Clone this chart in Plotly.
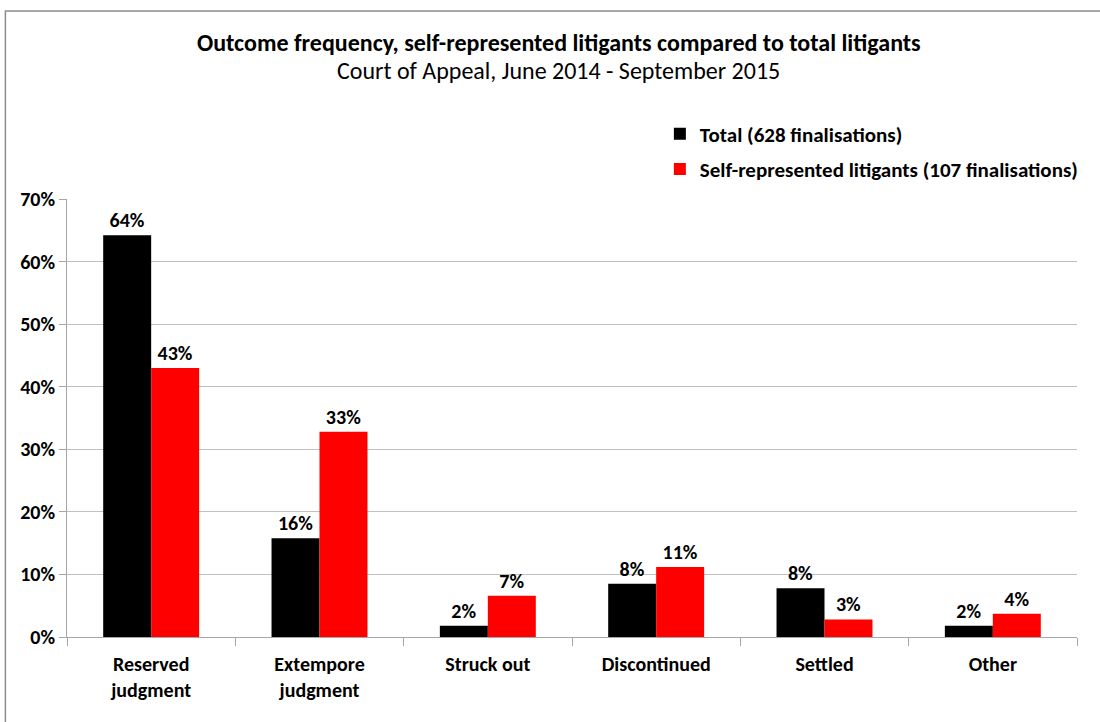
import plotly.graph_objects as go

categories = ["Reserved<br>judgment", "Extempore<br>judgment", "Struck out", "Discontinued", "Settled", "Other"]
total_vals = [64.2, 15.8, 1.8, 8.5, 7.8, 1.8]
srl_vals = [43.0, 32.8, 6.6, 11.2, 2.8, 3.7]
total_labels = ["64%", "16%", "2%", "8%", "8%", "2%"]
srl_labels = ["43%", "33%", "7%", "11%", "3%", "4%"]
y_ticks = [0, 10, 20, 30, 40, 50, 60, 70]
y_tick_text = ["0%", "10%", "20%", "30%", "40%", "50%", "60%", "70%"]

FONT = "Carlito, Lato, sans-serif"
BOLD20 = dict(family=FONT, size=20, color="#000000", weight="bold")

fig = go.Figure()
fig.add_trace(go.Bar(
    x=categories, y=total_vals, name="Total (628 finalisations)",
    legendgroup="total",
    marker=dict(color="#000000", line=dict(width=0)),
    text=total_labels, textposition="outside", cliponaxis=False,
    textfont=BOLD20,
))
fig.add_trace(go.Bar(
    x=categories, y=srl_vals, name="Self-represented litigants (107 finalisations)",
    legendgroup="srl",
    marker=dict(color="#FF0000", line=dict(width=0)),
    text=srl_labels, textposition="outside", cliponaxis=False,
    textfont=BOLD20,
))

fig.update_layout(
    width=1100, height=722,
    paper_bgcolor="white", plot_bgcolor="white",
    margin=dict(l=67, r=23, t=199, b=85, autoexpand=False),
    barmode="group", bargap=0.43, bargroupgap=0,
    font=dict(family=FONT, size=20, color="#000000"),
    showlegend=True,
    legend=dict(x=0.587, y=1.195, xanchor="left", yanchor="top",
                font=dict(family=FONT, size=21, color="#000000", weight="bold"),
                bgcolor="rgba(0,0,0,0)", itemwidth=30, tracegroupgap=5),
    uniformtext=dict(minsize=20, mode="show"),
)
fig.update_xaxes(
    showline=True, linecolor="#A6A6A6", linewidth=1,
    ticks="outside", tickson="boundaries", ticklen=8, tickcolor="#A6A6A6",
    tickfont=BOLD20, ticklabelstandoff=9,
    showgrid=False,
)
fig.update_yaxes(
    range=[0, 70], tickvals=y_ticks, ticktext=y_tick_text,
    showline=True, linecolor="#A6A6A6", linewidth=1,
    ticks="outside", ticklen=7, tickcolor="#A6A6A6",
    showgrid=True, gridcolor="#C0C0C0", gridwidth=1,
    tickfont=BOLD20, zeroline=False,
)
fig.add_annotation(
    text="<b>Outcome frequency, self-represented litigants compared to total litigants</b>",
    xref="paper", yref="paper", x=0.487, y=1.0, xanchor="center", yanchor="middle",
    yshift=199 - 42, showarrow=False, font=dict(family=FONT, size=24, color="#000000"),
)
fig.add_annotation(
    text="Court of Appeal, June 2014 - September 2015",
    xref="paper", yref="paper", x=0.487, y=1.0, xanchor="center", yanchor="middle",
    yshift=199 - 70, showarrow=False, font=dict(family=FONT, size=24, color="#000000"),
)
fig.add_shape(type="rect", xref="paper", yref="paper",
              x0=-0.061, x1=1.05, y0=-0.25, y1=1.429,
              line=dict(color="#8C8C8C", width=1.5), fillcolor="rgba(0,0,0,0)", layer="below")

fig.write_html("out.html", config={"displayModeBar": False},
               post_script="document.body.style.margin='0px';document.body.style.overflow='hidden';")
